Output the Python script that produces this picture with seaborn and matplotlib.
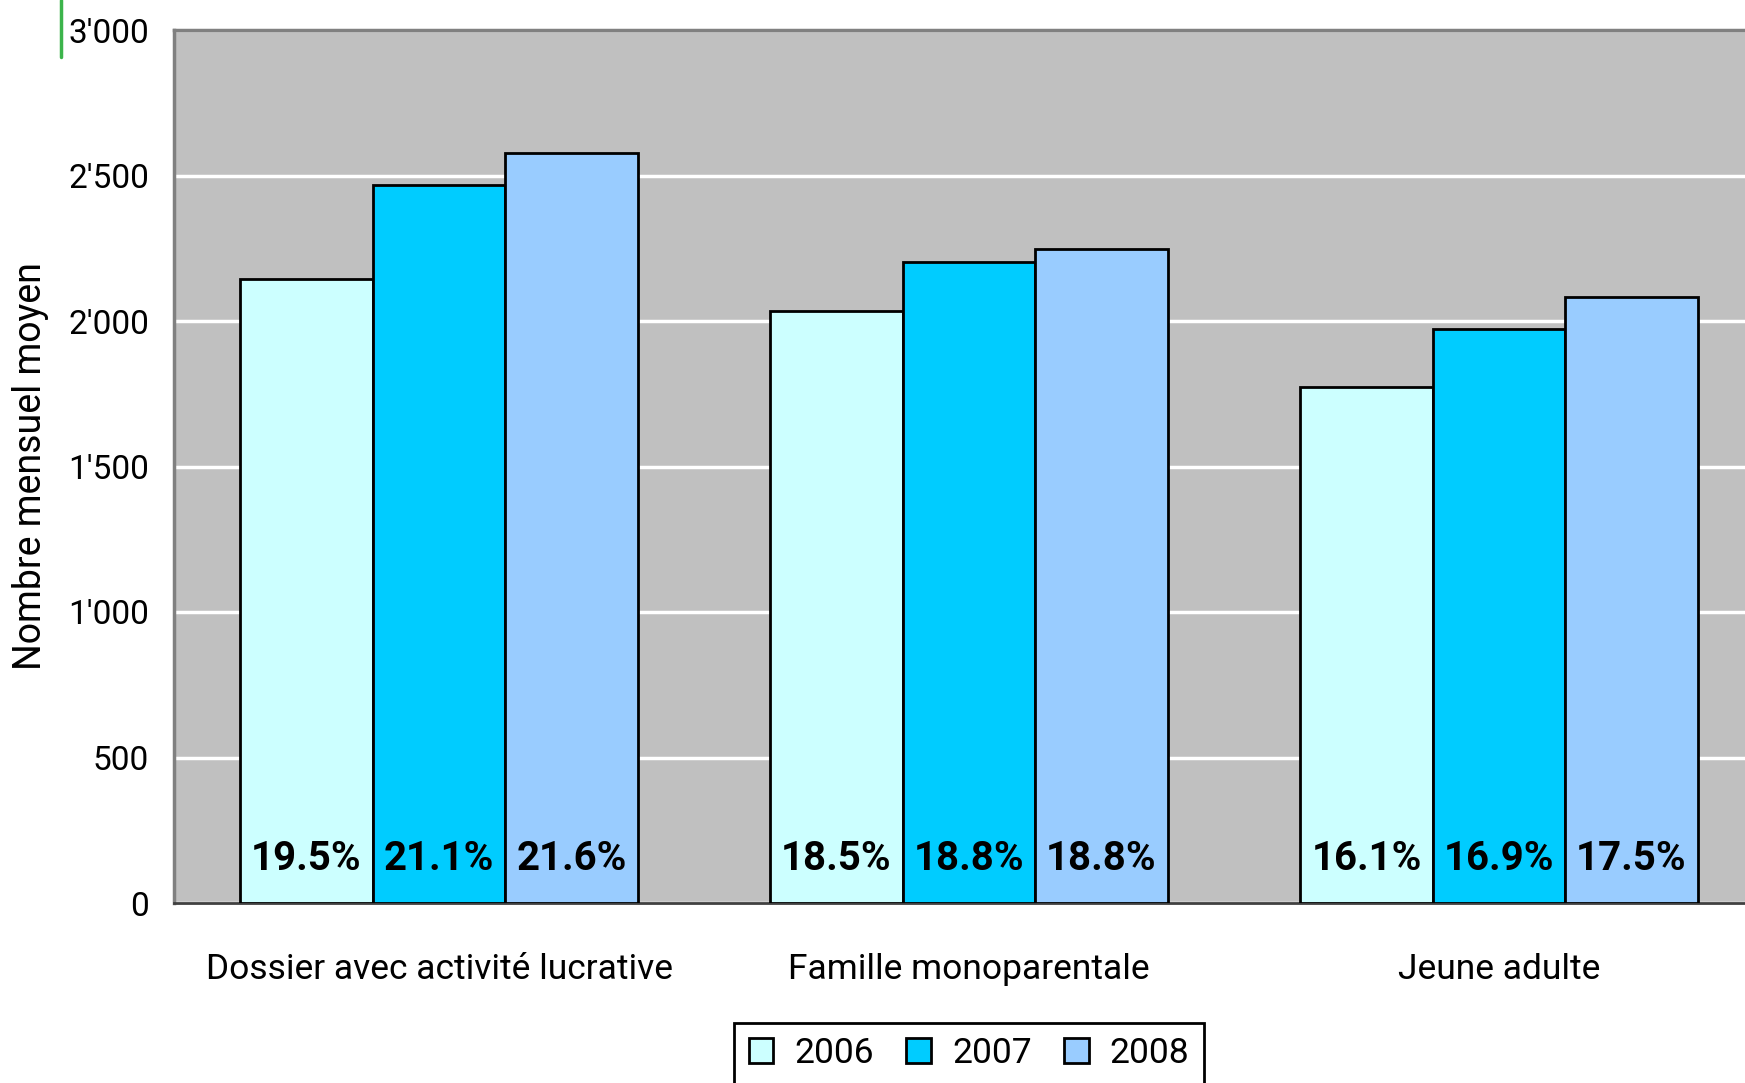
import matplotlib
matplotlib.use("Agg")
import matplotlib.pyplot as plt
import matplotlib.patches as mpatches
from matplotlib.lines import Line2D
from matplotlib.ticker import FuncFormatter
import seaborn as sns
import pandas as pd

categories = ["Dossier avec activité lucrative", "Famille monoparentale", "Jeune adulte"]
years = ["2006", "2007", "2008"]
values_2006 = [2146, 2033, 1772]
values_2007 = [2469, 2202, 1973]
values_2008 = [2577, 2246, 2083]
pct_2006 = ["19.5%", "18.5%", "16.1%"]
pct_2007 = ["21.1%", "18.8%", "16.9%"]
pct_2008 = ["21.6%", "18.8%", "17.5%"]
yticks = [0, 500, 1000, 1500, 2000, 2500, 3000]
colors = ["#CCFFFF", "#00CCFF", "#99CCFF"]

rows = []
for yr, vals in zip(years, [values_2006, values_2007, values_2008]):
    for c, v in zip(categories, vals):
        rows.append({"cat": c, "year": yr, "val": v})
df = pd.DataFrame(rows)

sns.set_theme(style="white")
plt.rcParams["font.family"] = ["Roboto", "DejaVu Sans"]
plt.rcParams["text.color"] = "black"
plt.rcParams["xtick.color"] = "black"
plt.rcParams["ytick.color"] = "black"

FS = 25.5

fig = plt.figure(figsize=(17.45, 10.83), dpi=100)
ax = fig.add_axes([174/1745, 1 - 903/1083, 1 - 174/1745, (903 - 30)/1083])
ax.set_facecolor("#C0C0C0")

sns.barplot(data=df, x="cat", y="val", hue="year", palette=colors, saturation=1,
            width=0.75, gap=0, edgecolor="black", linewidth=2,
            errorbar=None, ax=ax, legend=False, zorder=3)

ax.set_ylim(0, 3000)
ax.set_xlim(-0.5, 2.5 - 19/530)
ax.set_yticks(yticks)
ax.yaxis.set_major_formatter(FuncFormatter(lambda v, p: f"{int(v):,}".replace(",", "'")))
ax.grid(axis="y", color="white", linewidth=2.5, zorder=0)
ax.set_axisbelow(True)
ax.tick_params(axis="y", length=0, pad=18, labelsize=24, labelcolor="black")
ax.tick_params(axis="x", length=0, pad=36, labelsize=FS, labelcolor="black")
ax.set_xlabel("")
ax.set_ylabel("")
fig.text(31/1745, 1 - 466/1083, "Nombre mensuel moyen", rotation=90, ha="center", va="center",
         fontsize=27, color="black")

for s in ["top", "left"]:
    ax.spines[s].set_color("#808080")
    ax.spines[s].set_linewidth(2.5)
ax.spines["bottom"].set_color("#404040")
ax.spines["bottom"].set_linewidth(2)
ax.spines["right"].set_visible(False)

for cont, labels in zip(ax.containers, [pct_2006, pct_2007, pct_2008]):
    for bar, lab in zip(cont, labels):
        ax.text(bar.get_x() + bar.get_width()/2, 150, lab, ha="center", va="center",
                fontsize=29, fontweight="bold", color="black", zorder=5)

handles = [mpatches.Patch(facecolor=c, edgecolor="black", linewidth=2, label=y)
           for c, y in zip(colors, years)]
leg = fig.legend(handles=handles, loc="upper center", bbox_to_anchor=(969/1745, 1 - 1023/1083),
                 ncol=3, fontsize=FS, frameon=True, fancybox=False, handlelength=0.7,
                 handleheight=0.7, handletextpad=0.6, columnspacing=0.9, borderpad=0.4,
                 borderaxespad=0)
leg.get_frame().set_edgecolor("black")
leg.get_frame().set_linewidth(2)
leg.get_frame().set_alpha(1)

fig.add_artist(Line2D([61/1745, 61/1745], [1, 1 - 57/1083], color="#3CB44B", linewidth=2.5,
                      transform=fig.transFigure))

fig.savefig("out.png", dpi=100)
